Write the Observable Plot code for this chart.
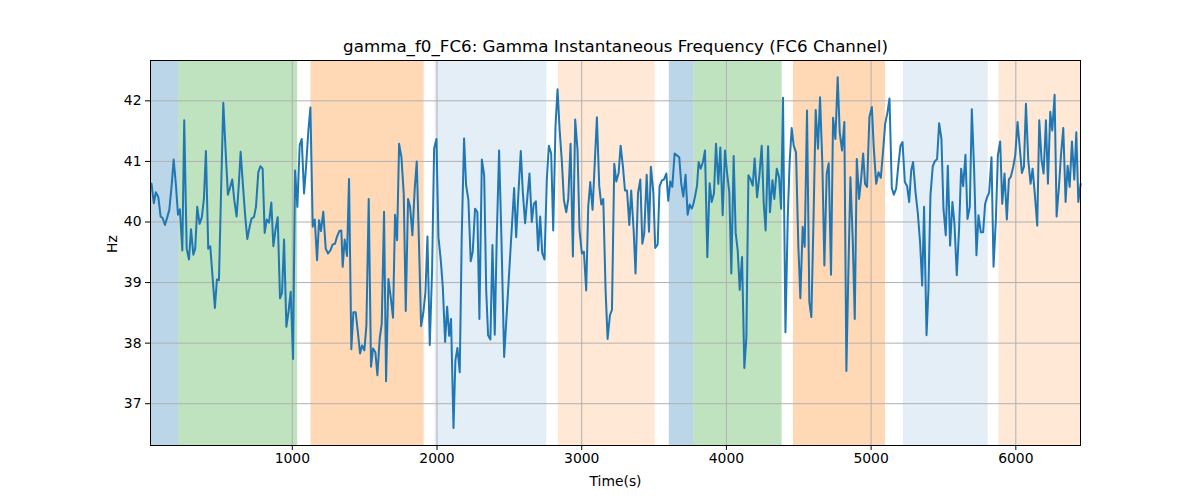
<!DOCTYPE html>
<html>
<head>
<meta charset="utf-8">
<script src="https://cdn.jsdelivr.net/npm/d3@7"></script>
<script src="https://cdn.jsdelivr.net/npm/@observablehq/plot@0.6"></script>
<style>
  html, body { margin: 0; padding: 0; background: #fff; }
  #chart svg { display: block; }
</style>
</head>
<body>
<div id="chart"></div>
<script>
const titleText = "gamma_f0_FC6: Gamma Instantaneous Frequency (FC6 Channel)";
const xLabel = "Time(s)";
const yLabel = "Hz";
const xTicks = [1000, 2000, 3000, 4000, 5000, 6000];
const yTicks = [37, 38, 39, 40, 41, 42];
const xDomain = [20, 6447];
const yDomain = [36.31, 42.666];

// shaded condition spans
const spanStart = [20, 216, 1129, 1987, 2838, 3605, 3776, 4463, 5223, 5883];
const spanEnd   = [216, 1037, 1911, 2759, 3508, 3776, 4385, 5099, 5809, 6447];
const spanColor = ["#1f77b4", "#2ca02c", "#ff7f0e", "#1f77b4", "#ff7f0e", "#1f77b4", "#2ca02c", "#ff7f0e", "#1f77b4", "#ff7f0e"];
const spanAlpha = [0.3, 0.3, 0.3, 0.125, 0.17, 0.3, 0.3, 0.3, 0.125, 0.17];

// signal
const times = [
  27,43,57,74,90,103,120,136,150,166,180,196,210,223,240,253,270,286,300,316,329,343,359,375,389,403,419,433,449,465,479,493,509,523,539,555,569,585,599,615,629,643,659,675,689,705,719,735,749,765,779,795,809,
  823,839,855,869,885,899,915,929,943,959,975,989,1005,1019,1035,1051,1065,1081,1095,1111,1125,1141,1155,1171,1185,1198,1214,1231,1247,1263,1279,1295,1309,1325,1339,1348,1362,1378,1392,1408,1422,1438,1454,1468,1482,1498,1512,1528,1544,1558,1574,1588,1604,1618,1634,
  1648,1664,1680,1696,1710,1724,1738,1754,1770,1784,1800,1814,1830,1846,1860,1876,1890,1906,1920,1934,1950,1966,1980,1996,2010,2026,2040,2056,2070,2084,2097,2114,2127,2141,2157,2171,2187,2201,2217,2233,2247,2263,2279,2293,2310,2326,2340,2353,2369,2383,2399,2413,2429,2445,2464,
  2501,2533,2547,2563,2579,2593,2609,2623,2639,2655,2669,2683,2699,2713,2727,2743,2759,2773,2789,2803,2819,2833,2847,2863,2877,2893,2907,2923,2939,2955,2971,2985,3001,3015,3031,3045,3059,3075,3091,3105,3121,3135,3149,3165,3179,3195,3209,3225,3239,3255,3269,3285,3299,
  3313,3329,3342,3359,3372,3389,3405,3419,3432,3449,3465,3478,3495,3508,3525,3538,3555,3568,3585,3598,3612,3626,3642,3658,3674,3688,3702,3718,3732,3746,3760,3769,3783,3797,3808,3822,3838,3852,3868,3884,3898,3914,3928,3944,3958,3974,3990,4004,4020,4034,4050,4064,4078,4092,4108,4124,
  4138,4152,4166,4182,4195,4212,4228,4244,4258,4271,4288,4301,4318,4331,4348,4364,4378,4391,4408,4424,4437,4451,4465,4481,4497,4511,4527,4541,4557,4573,4587,4601,4617,4633,4647,4663,4677,4693,4707,4723,4737,4753,4769,4783,4799,4815,4829,4843,4857,4873,4887,4901,4917,4931,4945,4958,
  4972,4988,5005,5018,5035,5051,5067,5083,5097,5113,5127,5143,5157,5173,5187,5203,5217,5233,5249,5263,5277,5290,5307,5323,5339,5353,5366,5383,5396,5410,5426,5440,5456,5470,5486,5500,5516,5530,5546,5562,5576,5592,5608,5622,5636,5652,5666,5682,5696,5712,5728,5742,5758,5774,5788,
  5802,5816,5832,5846,5862,5876,5892,5906,5922,5938,5952,5966,5982,5996,6012,6026,6042,6056,6070,6086,6102,6116,6132,6148,6162,6178,6192,6208,6222,6238,6252,6268,6282,6298,6312,6328,6344,6358,6372,6388,6404,6418,6432,6448
];
const values = [
  40.63,40.31,40.49,40.41,40.09,40.07,39.95,40.08,40.20,40.60,41.03,40.60,40.12,40.21,39.53,41.68,39.56,39.38,39.88,39.46,39.56,40.25,39.97,40.08,40.38,41.17,39.56,39.60,39.09,38.58,39.05,39.04,40.63,41.97,41.18,40.45,40.56,40.70,40.36,40.09,40.57,41.16,40.60,40.08,39.72,39.92,40.06,40.08,40.25,40.82,40.92,40.88,39.82,
  40.04,39.99,40.32,39.60,39.89,40.08,38.74,38.83,39.71,38.27,38.54,38.85,37.74,40.85,40.25,41.27,41.37,40.47,40.91,41.51,41.89,39.92,40.04,39.37,40.03,39.85,40.17,39.56,39.48,39.53,39.63,39.64,39.76,39.85,39.86,39.26,39.71,39.44,40.71,37.90,38.51,38.51,38.16,37.83,37.96,37.88,38.29,40.38,37.61,37.91,37.85,37.47,38.08,38.32,40.17,
  37.37,39.06,38.76,38.42,40.12,39.70,41.29,41.07,40.47,38.53,40.38,40.25,39.78,40.55,41.00,39.59,38.28,38.51,38.84,39.76,37.97,39.20,41.21,41.37,39.75,39.37,38.93,38.02,38.60,38.12,38.40,36.60,37.71,37.92,37.52,39.78,41.38,40.61,40.36,39.35,39.51,40.22,40.16,38.40,41.03,40.77,38.87,38.13,38.06,39.62,38.14,39.76,41.18,39.75,37.77,
  39.26,40.56,39.75,40.49,41.17,40.49,39.98,40.37,40.80,40.00,40.30,40.34,39.53,40.09,39.49,39.38,40.71,41.26,41.13,39.86,41.59,42.19,41.54,40.99,40.36,40.16,40.38,41.29,39.43,41.69,41.19,39.86,39.48,39.51,38.87,40.25,40.66,40.20,41.02,41.73,40.60,40.29,40.38,38.87,38.07,38.46,38.55,40.96,40.67,40.81,41.26,40.91,40.52,
  40.52,39.95,40.52,39.86,39.15,40.48,40.70,39.64,39.81,40.78,39.84,40.91,40.49,39.57,39.63,40.59,40.69,40.70,40.80,40.35,40.67,40.58,41.13,41.10,41.07,40.63,40.42,40.78,40.12,40.29,40.22,40.27,40.42,40.60,40.99,40.88,40.99,41.18,39.42,40.64,40.33,40.47,41.29,40.63,41.23,40.11,41.18,40.82,40.49,39.15,41.09,39.82,39.53,38.88,39.42,37.59,
  38.10,40.77,40.71,40.60,41.05,40.41,40.77,41.26,40.30,39.86,41.25,40.16,40.69,40.38,40.88,40.74,40.22,42.05,38.18,40.08,40.99,41.55,41.26,41.15,39.61,38.74,39.92,39.59,41.84,38.68,38.43,39.94,41.85,41.21,42.06,40.96,39.28,40.80,40.97,39.13,41.72,41.37,42.39,41.48,41.18,41.65,37.54,39.20,40.74,39.70,38.40,41.04,40.38,40.71,41.13,40.63,
  40.58,41.73,41.90,41.24,40.63,40.82,40.73,41.18,41.62,41.81,42.04,40.56,40.45,40.55,40.91,41.26,41.32,40.66,40.59,40.33,40.85,40.99,40.49,40.14,39.64,38.95,40.25,38.13,38.87,40.44,40.92,41.00,41.04,41.63,41.37,40.22,39.78,40.93,39.61,40.33,39.97,39.12,39.89,40.88,40.59,41.11,40.05,40.25,41.86,40.85,39.45,40.11,39.83,39.83,40.30,
  40.41,40.49,41.07,39.26,40.03,41.10,41.33,40.30,40.80,40.04,40.70,40.75,40.91,41.10,41.65,41.26,40.81,40.91,41.95,41.02,40.63,40.88,40.44,39.94,41.68,41.02,40.80,41.68,40.63,41.82,41.51,42.10,40.09,40.58,41.10,41.55,40.33,40.93,40.58,41.33,40.70,41.48,40.33,40.63
];

const spans = spanStart.map((s, i) => ({start: s, end: spanEnd[i], color: spanColor[i], alpha: spanAlpha[i]}));
const series = times.map((t, i) => ({t, v: values[i]}));

const font = "DejaVu Sans, sans-serif";
const chart = Plot.plot({
  width: 1200,
  height: 500,
  marginLeft: 150,
  marginRight: 120,
  marginTop: 60,
  marginBottom: 55,
  style: {fontFamily: font, fontSize: "13.9px", color: "#000", background: "#fff", overflow: "visible"},
  x: {domain: xDomain},
  y: {domain: yDomain},
  marks: [
    Plot.rect(spans, {x1: "start", x2: "end", fill: "color", fillOpacity: "alpha"}),
    Plot.gridX(xTicks, {stroke: "#b0b0b0", strokeOpacity: 1, strokeWidth: 1}),
    Plot.gridY(yTicks, {stroke: "#b0b0b0", strokeOpacity: 1, strokeWidth: 1}),
    Plot.line(series, {x: "t", y: "v", stroke: "#1f77b4", strokeWidth: 2, curve: "linear"}),
    Plot.frame({stroke: "#000", strokeWidth: 1}),
    Plot.axisX(xTicks, {tickSize: 5, tickPadding: 3, label: null, fontSize: 13.9, tickFormat: d => String(d)}),
    Plot.axisY(yTicks, {tickSize: 5, tickPadding: 4, label: null, fontSize: 13.9, tickFormat: d => String(d)}),
    Plot.text([titleText], {frameAnchor: "top", lineAnchor: "middle", dy: -14, fontSize: 16.7, fill: "#000"}),
    Plot.text([xLabel], {frameAnchor: "bottom", lineAnchor: "middle", dy: 36, fontSize: 13.9, fill: "#000"}),
    Plot.text([yLabel], {frameAnchor: "left", dx: -38, rotate: -90, fontSize: 13.9, fill: "#000"})
  ]
});
document.getElementById("chart").appendChild(chart);
</script>
</body>
</html>
